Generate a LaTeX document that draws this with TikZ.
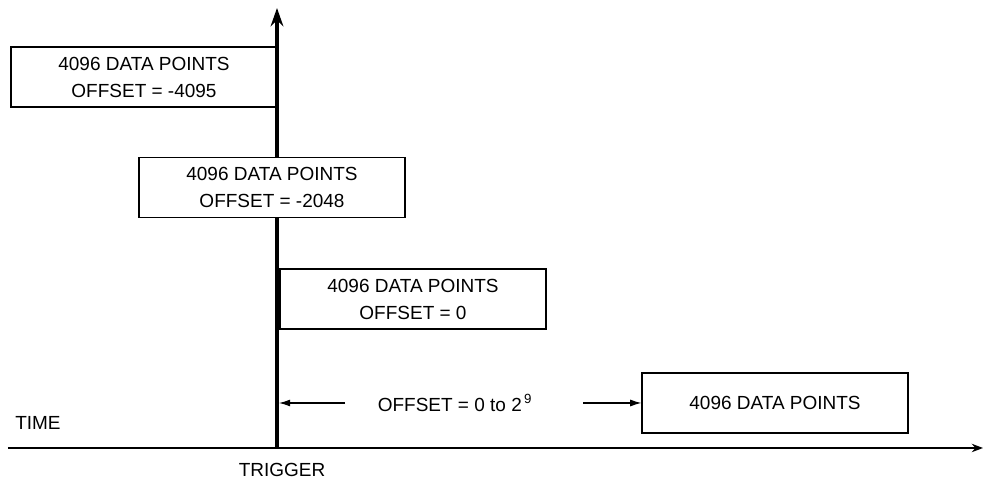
\documentclass[tikz,border=0pt]{standalone}
\usepackage{fontspec}
\setmainfont{Liberation Sans}
\usetikzlibrary{arrows.meta}

\tikzset{
    databox/.style={draw, line width=0.8pt, minimum width=6.65cm, minimum height=1.5cm,
        align=center, inner sep=0pt, font=\fontsize{13.5pt}{19.2pt}\selectfont},
    lbl/.style={inner sep=0pt, font=\fontsize{13.5pt}{16pt}\selectfont},
}

\begin{document}
\begin{tikzpicture}
            \useasboundingbox (-6.925, -0.85) rectangle (17.675, 11.2);
            % Axes and trigger:
                \coordinate (T0) at (0, 0);
                \coordinate (T1) at (0, 11.0);
                \coordinate (A0) at (-6.725, 0);
                \coordinate (A1) at (17.65, 0);
                \draw[line width=1pt, -{Stealth[length=8pt, width=6pt]}] (A0) -- (A1);
                \draw[line width=2.8pt, -{Stealth[length=13pt, width=9pt]}] (T0) -- (T1);
            % Boxes:
                \node[databox](B1) at (-3.325, 9.275){4096 DATA POINTS\\OFFSET = -4095};
                \node[databox, fill=white](B2) at (-0.125, 6.5125){4096 DATA POINTS\\OFFSET = -2048};
                \node[databox](B3) at (3.4, 3.725){4096 DATA POINTS\\OFFSET = 0};
                \node[databox](B4) at (12.45, 1.125){4096 DATA POINTS};
            % Labels and offset arrows:
                \node[lbl](OFS) at (4.45, 1.125){OFFSET = 0 to 2\textsuperscript{\,9}};
                \node[lbl, anchor=west](TIME) at (-6.55, 0.625){TIME};
                \node[lbl](TRG) at (0.125, -0.55){TRIGGER};
                \coordinate (L1) at (1.7, 1.125);
                \coordinate (L0) at (0.05, 1.125);
                \coordinate (R0) at (7.65, 1.125);
                \draw[line width=0.8pt, -{Latex[length=8pt, width=5pt]}] (L1) -- (L0);
                \draw[line width=0.8pt, -{Latex[length=8pt, width=5pt]}] (R0) -- (B4.west);
            \end{tikzpicture}
\end{document}
